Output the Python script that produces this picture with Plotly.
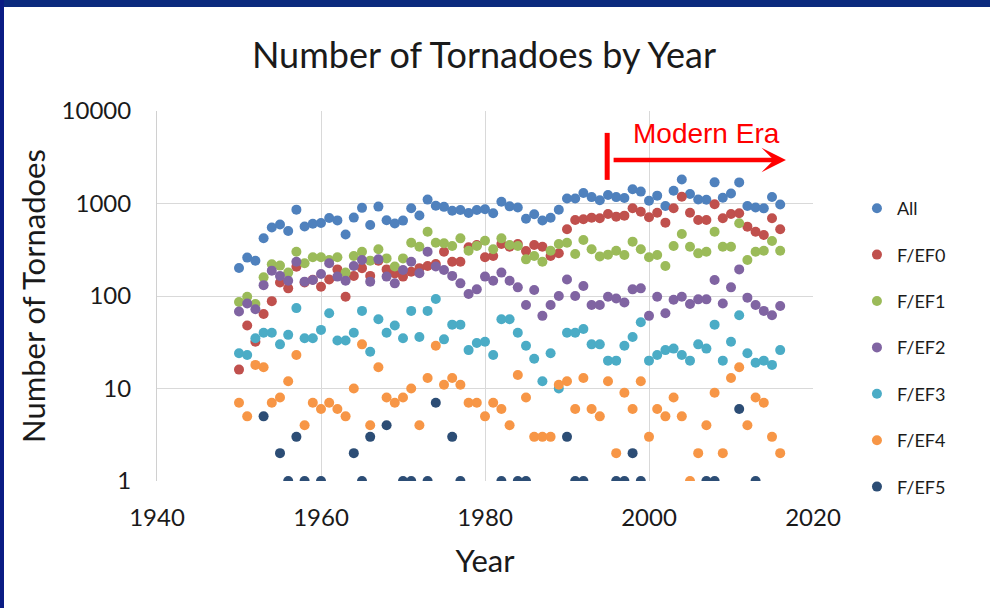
import plotly.graph_objects as go

years = list(range(1950, 2017))

all_counts = [201, 260, 240, 421, 550, 593, 504, 858, 564, 604,
              616, 697, 657, 463, 704, 897, 585, 926, 660, 608,
              653, 888, 741, 1102, 947, 920, 835, 852, 788, 852,
              866, 783, 1046, 931, 907, 684, 764, 656, 702, 856,
              1133, 1132, 1297, 1173, 1082, 1235, 1173, 1148, 1424, 1345,
              1071, 1216, 941, 1374, 1817, 1265, 1103, 1096, 1692, 1156,
              1282, 1691, 938, 907, 886, 1177, 976]

ef0 = [16, 48, 32, 64, 88, 140, 121, 207, 140, 150,
       126, 151, 194, 98, 165, 200, 165, 240, 194, 175,
       162, 183, 200, 211, 222, 301, 235, 235, 336, 356,
       262, 271, 365, 341, 365, 306, 356, 341, 271, 290,
       526, 664, 675, 703, 692, 770, 721, 739, 887, 816,
       709, 796, 621, 887, 1185, 796, 664, 664, 980, 692,
       770, 783, 562, 496, 456, 692, 526]

ef1 = [86, 98, 82, 159, 220, 213, 179, 301, 226, 262,
       262, 245, 262, 179, 271, 301, 241, 320, 255, 208,
       255, 377, 341, 496, 377, 371, 347, 420, 309, 347,
       396, 320, 420, 356, 347, 249, 271, 235, 309, 365,
       377, 285, 403, 320, 268, 280, 309, 277, 387, 320,
       262, 277, 211, 347, 468, 341, 289, 301, 496, 341,
       341, 611, 245, 301, 309, 393, 309]

ef2 = [68, 83, 72, 131, 188, 165, 146, 235, 143, 149,
       173, 226, 162, 146, 211, 245, 143, 249, 162, 137,
       191, 235, 176, 301, 208, 191, 165, 137, 105, 118,
       162, 146, 179, 146, 124, 80, 116, 61, 80, 100,
       151, 100, 128, 80, 80, 98, 94, 85, 118, 121,
       61, 98, 65, 91, 98, 82, 92, 92, 149, 83,
       124, 194, 96, 80, 69, 62, 78]

ef3 = [24, 23, 35, 40, 40, 30, 38, 74, 35, 35,
       43, 65, 33, 33, 40, 69, 25, 56, 40, 48,
       35, 69, 36, 69, 93, 34, 49, 49, 26, 31,
       32, 23, 56, 56, 40, 29, 21, 12, 24, 10,
       40, 40, 44, 30, 30, 20, 20, 29, 36, 52,
       20, 23, 26, 27, 23, 20, 30, 27, 49, 20,
       32, 62, 24, 19, 20, 18, 26]

ef4 = [7, 5, 18, 17, 7, 8, 12, 23, 4, 7,
       6, 7, 6, 5, 10, 30, 4, 17, 8, 7,
       8, 10, 4, 13, 29, 11, 13, 11, 7, 7,
       5, 7, 6, 4, 14, 8, 3, 3, 3, 11,
       12, 6, 13, 6, 5, 12, 2, 9, 6, 12,
       3, 6, 5, 8, 5, 1, 2, 4, 9, 2,
       13, 17, 4, 8, 7, 3, 2]

ef5 = [0, 0, 0, 5, 0, 2, 1, 3, 1, 0,
       1, 0, 0, 0, 2, 1, 3, 0, 4, 0,
       1, 1, 0, 1, 7, 0, 3, 1, 0, 0,
       0, 0, 1, 0, 1, 1, 0, 0, 0, 0,
       3, 1, 1, 0, 0, 0, 1, 1, 2, 1,
       0, 0, 0, 0, 0, 0, 0, 1, 1, 0,
       0, 6, 0, 1, 0, 0, 0]

series_names = ["All", "F/EF0", "F/EF1", "F/EF2", "F/EF3", "F/EF4", "F/EF5"]
series_values = [all_counts, ef0, ef1, ef2, ef3, ef4, ef5]
series_colors = ["#4F81BD", "#C0504D", "#9BBB59", "#8064A2", "#4BACC6", "#F79646", "#2C4D75"]

y_tick_vals = [1, 10, 100, 1000, 10000]
y_tick_text = ["1", "10", "100", "1000", "10000"]
x_tick_vals = [1940, 1960, 1980, 2000, 2020]

era_start = 1995
era_end = 2017

FONT = "Lato"
TXT = "#1a1a1a"

fig = go.Figure()
for name, vals, col in zip(series_names, series_values, series_colors):
    yv = [v if v and v > 0 else None for v in vals]
    fig.add_trace(go.Scatter(
        x=years, y=yv, mode="markers", name=name,
        legendgroup=name,
        marker=dict(color=col, size=10, line=dict(width=0)),
    ))

# Modern era vertical marker
fig.add_trace(go.Scatter(
    x=[era_start - 0.1, era_start - 0.1], y=[1800, 5800], mode="lines",
    line=dict(color="#FF0000", width=5), showlegend=False, hoverinfo="skip",
))

fig.add_annotation(
    x=era_end - 0.3, y=3.47, ax=era_start + 0.5, ay=3.47,
    xref="x", yref="y", axref="x", ayref="y",
    showarrow=True, arrowhead=3, arrowsize=0.9, arrowwidth=4.5, arrowcolor="#FF0000",
    text="",
)
fig.add_annotation(
    x=2007.0, y=3.76, xref="x", yref="y", text="Modern Era", showarrow=False,
    font=dict(family="Liberation Sans, Arial", size=28, color="#FF0000"),
    xanchor="center", yanchor="middle",
)

L, R, T, B = 157, 177, 111, 127
W, H = 990, 608
pw, ph = W - L - R, H - T - B

# top frame band (decoration)
fig.add_shape(type="rect", xref="paper", yref="paper",
              x0=-L / pw, x1=(W - L) / pw, y0=1 + (T - 7) / ph, y1=1 + T / ph,
              fillcolor="#0B2A7E", line=dict(width=0), layer="above")

fig.update_layout(
    width=W, height=H, autosize=False,
    margin=dict(l=L, r=R, t=T, b=B),
    paper_bgcolor="white", plot_bgcolor="white",
    font=dict(family=FONT, color=TXT),
    title=dict(text="Number of Tornadoes by Year", x=484 / W, xref="container",
               y=1 - 55 / H, yref="container", xanchor="center", yanchor="middle",
               font=dict(family=FONT, size=36, color=TXT)),
    legend=dict(x=1.067, xanchor="left", y=(481 - 347.5) / ph, yanchor="middle",
                font=dict(family=FONT, size=18, color=TXT), tracegroupgap=20,
                itemsizing="trace", bgcolor="rgba(0,0,0,0)"),
    showlegend=True,
)
fig.update_xaxes(
    range=[1940, 2020], tickvals=x_tick_vals, showgrid=True, gridcolor="#D9D9D9", gridwidth=1,
    zeroline=False, showline=False, ticks="", ticklabelstandoff=20,
    tickfont=dict(family=FONT, size=24, color=TXT),
    title=dict(text="Year", font=dict(family=FONT, size=31, color=TXT), standoff=20),
)
fig.update_yaxes(
    type="log", range=[0, 4], tickvals=y_tick_vals, ticktext=y_tick_text,
    showgrid=True, gridcolor="#D9D9D9", gridwidth=1, zeroline=False,
    showline=True, linecolor="#D0D0D0", linewidth=1, ticks="", ticklabelstandoff=20,
    tickfont=dict(family=FONT, size=24, color=TXT),
    title=dict(text="Number of Tornadoes", font=dict(family=FONT, size=31, color=TXT), standoff=6),
)

fig.write_html("out.html",
               config={"displayModeBar": False},
               post_script=("document.body.style.margin='0';"
                            "document.body.style.overflow='hidden';"
                            "document.documentElement.style.overflow='hidden';"
                            "var fr=document.createElement('div');"
                            "fr.style.cssText='position:fixed;left:0;top:0;width:4px;height:608px;"
                            "background:#0A1C84;z-index:10;pointer-events:none';"
                            "document.body.appendChild(fr);"))
